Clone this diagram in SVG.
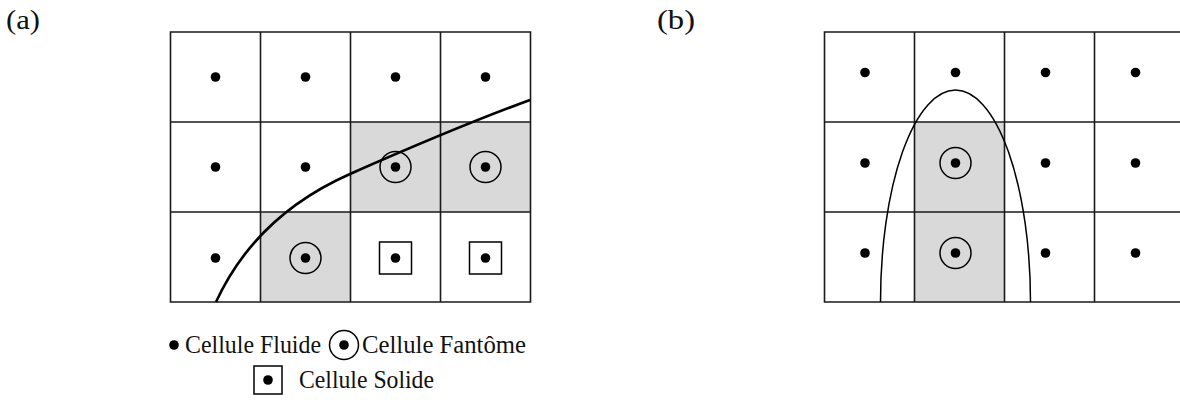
<svg xmlns="http://www.w3.org/2000/svg" width="1180" height="410" viewBox="0 0 1180 410">
<style>
.grid{fill:none;stroke:#1a1a1a;stroke-width:1.6}
.ghost{fill:#d9d9d9}
.dot{fill:#000}
.ring{fill:none;stroke:#000;stroke-width:1.5}
.lbl{font-family:"Liberation Serif","DejaVu Serif",serif;font-size:28px;fill:#111}
.leg{font-family:"Liberation Serif","Times New Roman",serif;font-size:24.5px;fill:#111}
</style>
<defs>
<g id="fl"><circle r="4.8" class="dot"/></g>
<g id="gh"><circle r="15.5" class="ring"/><circle r="4.8" class="dot"/></g>
<g id="so"><rect x="-16" y="-16" width="32" height="32" class="ring"/><circle r="4.8" class="dot"/></g>
</defs>
<rect width="1180" height="410" fill="#fff"/>
<text class="lbl" x="6" y="29" textLength="34" lengthAdjust="spacingAndGlyphs">(a)</text>
<text class="lbl" x="657" y="29" textLength="38" lengthAdjust="spacingAndGlyphs">(b)</text>

<g id="panel-a">
<rect class="ghost" x="350.5" y="122" width="180" height="90"/>
<rect class="ghost" x="260.5" y="212" width="90" height="90"/>
<path class="grid" d="M170.5,32H530.5V302H170.5Z M260.5,32V302 M350.5,32V302 M440.5,32V302 M170.5,122H530.5 M170.5,212H530.5"/>
<g id="a-cells">
<use href="#fl" x="215.5" y="77"/><use href="#fl" x="305.5" y="77"/><use href="#fl" x="395.5" y="77"/><use href="#fl" x="485.5" y="77"/>
<use href="#fl" x="215.5" y="167"/><use href="#fl" x="305.5" y="167"/><use href="#gh" x="395.5" y="167"/><use href="#gh" x="485.5" y="167"/>
<use href="#fl" x="215.5" y="258"/><use href="#gh" x="305.5" y="258"/><use href="#so" x="395.5" y="258"/><use href="#so" x="485.5" y="258"/>
</g>
<path id="a-interface" d="M216,302 C240,250 280,205 350,174 C400,152 470,122 530,100" fill="none" stroke="#000" stroke-width="2.6"/>
</g>

<g id="legend">
<circle cx="174" cy="345" r="4.8" class="dot"/>
<text class="leg" x="185" y="353" textLength="136" lengthAdjust="spacingAndGlyphs">Cellule Fluide</text>
<circle cx="344" cy="345" r="14.5" class="ring"/><circle cx="344" cy="345" r="4.8" class="dot"/>
<text class="leg" x="362" y="353" textLength="164" lengthAdjust="spacingAndGlyphs">Cellule Fantôme</text>
<rect x="254" y="366" width="28" height="28" class="ring"/><circle cx="268" cy="380" r="4.8" class="dot"/>
<text class="leg" x="299" y="388" textLength="135" lengthAdjust="spacingAndGlyphs">Cellule Solide</text>
</g>

<g id="panel-b">
<rect class="ghost" x="914.5" y="122" width="90" height="180"/>
<path class="grid" d="M1180,32H824.5V302H1180 M914.5,32V302 M1004.5,32V302 M1094.5,32V302 M824.5,122H1180 M824.5,212H1180"/>
<g id="b-cells">
<use href="#fl" x="865" y="72.5"/><use href="#fl" x="955.5" y="72.5"/><use href="#fl" x="1045.5" y="72.5"/><use href="#fl" x="1135.5" y="72.5"/>
<use href="#fl" x="865" y="163"/><use href="#gh" x="955.5" y="163"/><use href="#fl" x="1045.5" y="163"/><use href="#fl" x="1135.5" y="163"/>
<use href="#fl" x="865" y="253"/><use href="#gh" x="955.5" y="253"/><use href="#fl" x="1045.5" y="253"/><use href="#fl" x="1135.5" y="253"/>
</g>
<path id="b-interface" d="M880.5,302 A75,212 0 0 1 1030.5,302" fill="none" stroke="#000" stroke-width="1.5"/>
</g>
</svg>
